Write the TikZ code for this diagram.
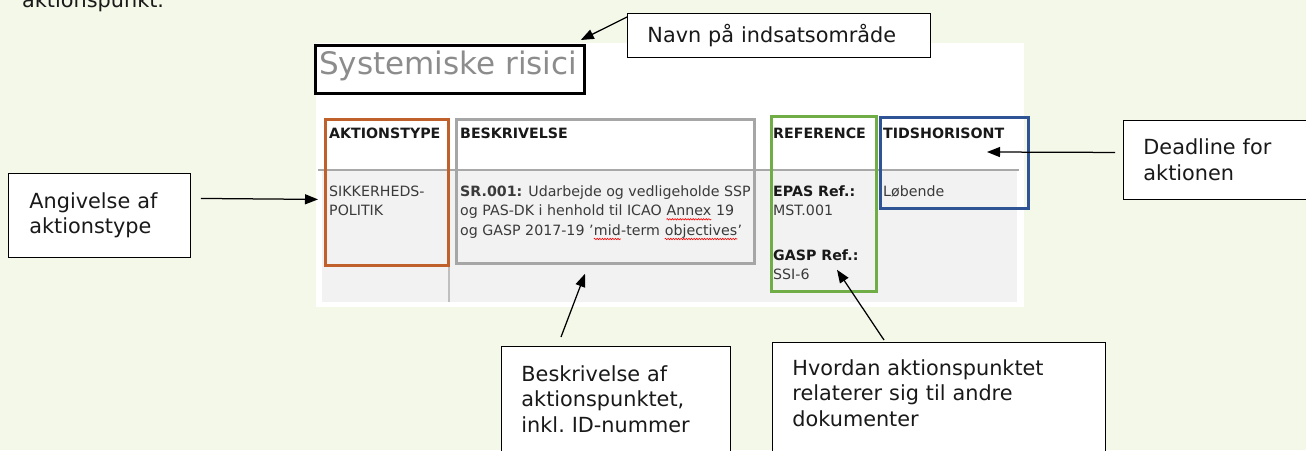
\documentclass[tikz,border=0pt]{standalone}
\usepackage{fontspec}
\setmainfont{DejaVu Sans}
\usetikzlibrary{arrows.meta,calc,decorations.pathmorphing}
\definecolor{bgc}{HTML}{F4F8E8}
\definecolor{cellgray}{HTML}{F2F2F2}
\definecolor{sepc}{HTML}{A8A8A8}
\definecolor{orangec}{HTML}{C0602A}
\definecolor{grayc}{HTML}{A6A6A6}
\definecolor{greenc}{HTML}{70AD47}
\definecolor{bluec}{HTML}{2F5496}
\definecolor{titlec}{HTML}{8C8C8C}
\definecolor{bodyc}{HTML}{3A3A3A}
\newcommand\annfont{\fontsize{20.8}{25.5}\selectfont}
\newcommand\tabfont{\fontsize{14.2}{19.5}\selectfont}
\begin{document}
\begin{tikzpicture}[x=1pt,y=-1pt,
  ann/.style={draw=black,line width=0.9pt,fill=white,anchor=north west,align=left,font=\annfont,inner xsep=20pt,text=black!90},
  frame/.style={anchor=north west,inner sep=0pt,line width=2.8pt},
  hdr/.style={anchor=base west,inner sep=0pt,font=\tabfont\bfseries,text=black!90},
  cell/.style={anchor=base west,inner sep=0pt,font=\tabfont,text=bodyc},
  wave/.style={red,line width=0.6pt,decorate,decoration={snake,amplitude=0.7pt,segment length=2.6pt}},
  arr/.style={-{Triangle[length=13pt,width=10pt]},line width=1.25pt,black}]
\useasboundingbox (0,0) rectangle (1306,450);
\fill[bgc] (0,0) rectangle (1306,450);
\begin{scope}
\clip (0,0) rectangle (1306,450);
\node[anchor=base west,inner sep=0pt,font=\annfont,text=black!90] (cut) at (22,7) {aktionspunkt.};
% screenshot
\fill[white] (316,43) rectangle (1024,307);
\fill[cellgray] (322,171) rectangle (1017,302);
\draw[sepc,line width=2pt] (318,170) -- (1019,170);
\draw[black!25,line width=1.5pt] (449,171) -- (449,302);
% title
\node[frame,draw=black,minimum width=269pt,minimum height=48pt] (title) at (314,44) {};
\node[anchor=base west,inner sep=0pt,font=\fontsize{31}{36}\selectfont,text=titlec] (ttext) at (319,74) {Systemiske risici};
% headers
\node[hdr] (h1) at (329,138) {AKTIONSTYPE};
\node[hdr] (h2) at (460,138) {BESKRIVELSE};
\node[hdr] (h3) at (773,138) {REFERENCE};
\node[hdr] (h4) at (883,138) {TIDSHORISONT};
% body
\node[cell] (c1a) at (329,196) {SIKKERHEDS-};
\node[cell] (c1b) at (329,215.8) {POLITIK};
\node[cell] (c2a) at (460,196) {\textbf{SR.001:} Udarbejde og vedligeholde SSP};
\node[cell] (c2b) at (460,215.8) {og PAS-DK i henhold til ICAO};
\node[cell] (w1) at ($(c2b.base east)+(4.5,0)$) {Annex};
\node[cell] (c2b2) at ($(w1.base east)+(4.5,0)$) {19};
\node[cell] (c2c) at (460,235.5) {og GASP 2017-19 ’};
\node[cell] (w2) at (c2c.base east) {mid};
\node[cell] (c2c2) at (w2.base east) {-term};
\node[cell] (w3) at ($(c2c2.base east)+(4.5,0)$) {objectives};
\node[cell] (c2c3) at (w3.base east) {’};
\node[cell,font=\tabfont\bfseries,text=black!90] (c3a) at (773,196) {EPAS Ref.:};
\node[cell] (c3b) at (773,215.8) {MST.001};
\node[cell,font=\tabfont\bfseries,text=black!90] (c3c) at (773,260) {GASP Ref.:};
\node[cell] (c3d) at (773,279.5) {SSI-6};
\node[cell] (c4a) at (883,196) {Løbende};
\foreach \w in {w1,w2,w3}
  \draw[wave] ($(\w.base west)+(0,3.5)$) -- ($(\w.base east)+(0,3.5)$);
% coloured frames
\node[frame,draw=orangec,minimum width=123pt,minimum height=146pt] (akt) at (324,118) {};
\node[frame,draw=grayc,minimum width=298pt,minimum height=144pt] (besk) at (455,118) {};
\node[frame,draw=greenc,minimum width=105pt,minimum height=175pt] (ref) at (770,115) {};
\node[frame,draw=bluec,line width=2.5pt,minimum width=148pt,minimum height=91pt] (tid) at (879,116) {};
% annotation boxes
\node[ann,minimum width=303pt,minimum height=44pt,text width=263pt] (navn) at (627,13) {Navn på indsatsområde};
\node[ann,minimum width=182pt,minimum height=84pt,text width=140pt,inner xsep=21pt] (angiv) at (8,173) {Angivelse af\\aktionstype};
\node[ann,minimum width=200pt,minimum height=79pt,text width=160pt] (dead) at (1123,120) {Deadline for\\aktionen};
\node[ann,text width=189pt,inner ysep=19pt,text depth=60pt] (beskann) at (501,346) {Beskrivelse af\\aktionspunktet,\\inkl.\ ID-nummer};
\node[ann,text width=293pt,inner ysep=17pt,text depth=60pt] (hvor) at (772,342) {Hvordan aktionspunktet\\relaterer sig til andre\\dokumenter};
% connectors
\draw[arr] ($(navn.north west)+(0,4)$) -- ($(title.north east)+(-5,-4)$);
\draw[arr] ($(angiv.east)+(10,-17)$) -- ($(akt.west)+(-6,7)$);
\draw[arr] ($(dead.west)+(-8,-7.5)$) -- ($(tid.north west)+(108,36)$);
\draw[arr] ($(beskann.north west)+(60,-9)$) -- ($(besk.south west)+(130,9)$);
\draw[arr] ($(hvor.north west)+(112,-2)$) -- ($(ref.south west)+(67,-23)$);
\end{scope}
\end{tikzpicture}
\end{document}
